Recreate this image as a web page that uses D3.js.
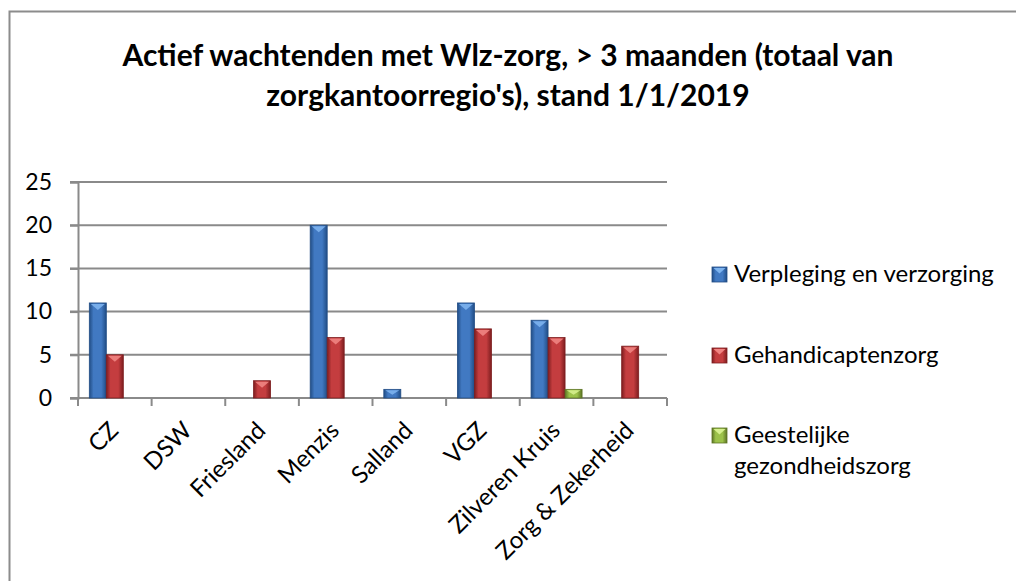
<!DOCTYPE html>
<html>
<head>
<meta charset="utf-8">
<script src="https://cdn.jsdelivr.net/npm/d3@7"></script>
<style>
  body { margin: 0; background: #fff; }
  svg { display: block; font-family: Lato, "Open Sans", sans-serif; }
</style>
</head>
<body>
<svg id="chart" width="1016" height="581"></svg>
<script>
const categories = ["CZ", "DSW", "Friesland", "Menzis", "Salland", "VGZ", "Zilveren Kruis", "Zorg & Zekerheid"]
const seriesNames = ["Verpleging en verzorging", "Gehandicaptenzorg", "Geestelijke gezondheidszorg"]
const verpleging = [11, 0, 0, 20, 1, 11, 9, 0]
const gehandicapten = [5, 0, 2, 7, 0, 8, 7, 6]
const ggz = [0, 0, 0, 0, 0, 0, 1, 0]
const yTicks = [0, 5, 10, 15, 20, 25]

const seriesValues = [verpleging, gehandicapten, ggz]
const colors = [
    {dark: "#214d85", mid: "#4179c2", light: "#7db3ee"},
    {dark: "#7d1d1f", mid: "#c43d3f", light: "#f08482"},
    {dark: "#5c7424", mid: "#9cc24a", light: "#d6f08e"}
]

const svg = d3.select("#chart")

// outer frame (only left/top visible in the picture)
svg.append("rect")
    .attr("x", 9.5)
    .attr("y", 11.5)
    .attr("width", 1030)
    .attr("height", 600)
    .attr("fill", "none")
    .attr("stroke", "#8c8c8c")
    .attr("stroke-width", 2)

const defs = svg.append("defs")
colors.forEach((c, i) => {
    const g = defs.append("linearGradient")
        .attr("id", "grad" + i)
        .attr("x1", "0%").attr("x2", "100%")
        .attr("y1", "0%").attr("y2", "0%")
    g.append("stop").attr("offset", "0%").attr("stop-color", c.dark)
    g.append("stop").attr("offset", "25%").attr("stop-color", c.mid)
    g.append("stop").attr("offset", "70%").attr("stop-color", c.mid)
    g.append("stop").attr("offset", "100%").attr("stop-color", c.dark)
})

// title
const title = svg.append("text")
    .attr("text-anchor", "middle")
    .attr("font-weight", "bold")
    .attr("font-size", 30)
    .attr("fill", "#000")
title.append("tspan").attr("x", 508).attr("y", 66)
    .text("Actief wachtenden met Wlz-zorg, > 3 maanden (totaal van")
title.append("tspan").attr("x", 508).attr("y", 106)
    .text("zorgkantoorregio's), stand 1/1/2019")

const plotLeft = 78, plotRight = 667, plotTop = 182, plotBottom = 398

const y = d3.scaleLinear().domain([0, 25]).range([plotBottom, plotTop])
const x0 = d3.scaleBand().domain(categories).range([plotLeft, plotRight])
const groupW = 51
const x1 = d3.scaleBand().domain(d3.range(seriesNames.length)).range([0, groupW])

// gridlines
svg.append("g")
    .selectAll("line")
    .data(yTicks)
    .join("line")
    .attr("x1", plotLeft - 8)
    .attr("x2", plotRight)
    .attr("y1", d => y(d))
    .attr("y2", d => y(d))
    .attr("stroke", "#8a8a8a")
    .attr("stroke-width", 2)

// y axis
const yAxis = svg.append("g")
    .attr("transform", `translate(${plotLeft},0)`)
    .call(d3.axisLeft(y).tickValues(yTicks).tickSize(8).tickPadding(18))
yAxis.select(".domain").attr("stroke", "#8a8a8a").attr("stroke-width", 2)
yAxis.selectAll(".tick line").attr("stroke", "#8a8a8a").attr("stroke-width", 2)
yAxis.selectAll("text").attr("font-size", 23).attr("fill", "#000")
    .attr("font-family", "Lato, 'Open Sans', sans-serif")

// x axis ticks at band boundaries
const boundaries = categories.map(c => x0(c)).concat([plotRight])
svg.append("g")
    .selectAll("line")
    .data(boundaries)
    .join("line")
    .attr("x1", d => d)
    .attr("x2", d => d)
    .attr("y1", plotBottom)
    .attr("y2", plotBottom + 8)
    .attr("stroke", "#8a8a8a")
    .attr("stroke-width", 2)

svg.append("g")
    .selectAll("text")
    .data(categories)
    .join("text")
    .attr("transform", d => `translate(${x0(d) + x0.bandwidth() / 2 + 5},${plotBottom + 34}) rotate(-45)`)
    .attr("text-anchor", "end")
    .attr("font-size", 24)
    .attr("fill", "#000")
    .text(d => d)

// bars
const bars = []
seriesValues.forEach((vals, s) => {
    vals.forEach((v, i) => {
        if (v > 0) bars.push({s: s, cat: categories[i], v: v})
    })
})
const offset = (x0.bandwidth() - groupW) / 2
const barG = svg.append("g")
const bw = x1.bandwidth()

barG.selectAll("rect")
    .data(bars)
    .join("rect")
    .attr("x", d => x0(d.cat) + offset + x1(d.s))
    .attr("y", d => y(d.v))
    .attr("width", bw)
    .attr("height", d => y(0) - y(d.v))
    .attr("fill", d => `url(#grad${d.s})`)
    .attr("stroke", d => colors[d.s].dark)
    .attr("stroke-width", 0.8)

barG.selectAll("polygon")
    .data(bars)
    .join("polygon")
    .attr("points", d => {
        const bx = x0(d.cat) + offset + x1(d.s)
        const by = y(d.v)
        const h = Math.min(6, (y(0) - y(d.v)) / 2)
        return `${bx + 1.5},${by + 1} ${bx + bw - 1.5},${by + 1} ${bx + bw / 2},${by + h + 1}`
    })
    .attr("fill", d => colors[d.s].light)
    .attr("opacity", 0.9)

// legend
const legendY = [275, 356, 436]
const legend = svg.append("g")
seriesNames.forEach((name, i) => {
    const g = legend.append("g").attr("transform", `translate(712,${legendY[i]})`)
    g.append("rect")
        .attr("x", 0).attr("y", -8)
        .attr("width", 15).attr("height", 15)
        .attr("fill", `url(#grad${i})`)
        .attr("stroke", colors[i].dark)
        .attr("stroke-width", 0.8)
    g.append("polygon")
        .attr("points", "1.5,-7 13.5,-7 7.5,-1.5")
        .attr("fill", colors[i].light)
    const t = g.append("text")
        .attr("x", 22)
        .attr("y", 7)
        .attr("font-size", 24)
        .attr("fill", "#000")
    if (i === 2) {
        t.append("tspan").attr("x", 22).text("Geestelijke")
        t.append("tspan").attr("x", 22).attr("dy", 31).text("gezondheidszorg")
    } else {
        t.text(name)
    }
})
</script>
</body>
</html>
